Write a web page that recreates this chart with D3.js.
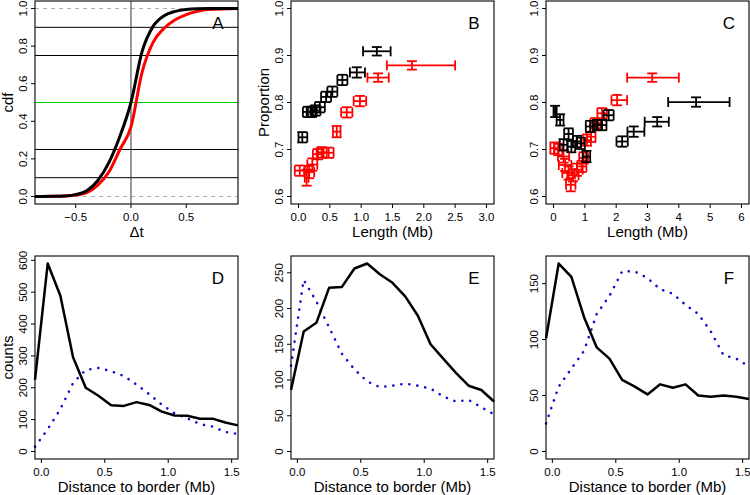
<!DOCTYPE html>
<html><head><meta charset="utf-8">
<script src="https://cdn.jsdelivr.net/npm/d3@7/dist/d3.min.js"></script>
<style>body{margin:0;background:#fff}svg{display:block}text{font-family:"Liberation Sans",Arial,Helvetica,sans-serif;fill:#000}</style>
</head><body><svg id="c" width="750" height="495"></svg>
<script>
// ---------- Panel A: cumulative distributions ----------
const cdfX     = [-0.868,-0.7,-0.6,-0.5,-0.4,-0.3,-0.2,-0.1,0.0,0.1,0.2,0.3,0.4,0.5,0.6,0.7,0.968];
const cdfBlack = [0.0,0.001,0.003,0.01,0.03,0.085,0.18,0.32,0.5,0.77,0.905,0.962,0.985,0.995,0.999,1.0,1.0];
const cdfRed   = [0.0,0.001,0.002,0.008,0.02,0.06,0.13,0.25,0.37,0.66,0.82,0.895,0.94,0.968,0.985,0.995,1.0];
const aQuantLines = [0.1,0.25,0.75,0.9];
const aMedian = 0.5;
const aBounds = [0,1];

// ---------- Panel B ----------
const bBlackX  = [0.06,0.15,0.21,0.27,0.34,0.44,0.54,0.70,0.93,1.25];
const bBlackY  = [0.726,0.780,0.780,0.783,0.790,0.812,0.823,0.848,0.864,0.909];
const bBlackLo = [0.0,0.07,0.13,0.19,0.26,0.36,0.46,0.62,0.82,1.03];
const bBlackHi = [0.14,0.23,0.29,0.35,0.42,0.52,0.62,0.78,1.06,1.47];
const bBlackEY = [0.011,0.011,0.011,0.011,0.011,0.011,0.011,0.011,0.011,0.009];
const bRedX  = [0.02,0.13,0.17,0.22,0.31,0.37,0.48,0.61,0.77,0.98,1.27,1.81];
const bRedY  = [0.655,0.640,0.652,0.668,0.690,0.694,0.693,0.738,0.779,0.803,0.853,0.879];
const bRedLo = [-0.06,0.10,0.09,0.14,0.23,0.29,0.40,0.55,0.68,0.88,1.10,1.41];
const bRedHi = [0.10,0.16,0.25,0.30,0.39,0.45,0.56,0.67,0.86,1.08,1.44,2.50];
const bRedEY = [0.011,0.017,0.013,0.013,0.011,0.011,0.011,0.012,0.011,0.011,0.009,0.009];

// ---------- Panel C ----------
const cBlackX  = [0.05,0.21,0.32,0.48,0.57,0.75,0.87,1.05,1.17,1.39,1.55,1.76,2.19,2.56,3.31,4.55];
const cBlackY  = [0.781,0.763,0.710,0.733,0.706,0.717,0.713,0.685,0.749,0.752,0.752,0.773,0.717,0.738,0.759,0.801];
const cBlackLo = [0.00,0.10,0.20,0.34,0.45,0.62,0.74,0.93,1.03,1.25,1.41,1.60,2.01,2.36,2.91,3.66];
const cBlackHi = [0.10,0.32,0.44,0.62,0.69,0.88,1.00,1.17,1.31,1.53,1.69,1.92,2.37,2.90,3.68,5.62];
const cBlackEY = [0.012,0.012,0.012,0.012,0.012,0.012,0.012,0.012,0.012,0.011,0.011,0.011,0.011,0.011,0.010,0.010];
const cRedX  = [0.03,0.15,0.32,0.37,0.48,0.55,0.62,0.75,0.90,0.96,1.07,1.20,1.34,1.55,2.03,3.15];
const cRedY  = [0.703,0.700,0.685,0.667,0.650,0.625,0.645,0.657,0.664,0.682,0.720,0.727,0.756,0.777,0.805,0.853];
const cRedLo = [-0.10,0.02,0.14,0.17,0.28,0.40,0.44,0.57,0.75,0.82,0.95,1.06,1.18,1.40,1.85,2.35];
const cRedHi = [0.16,0.28,0.50,0.57,0.68,0.70,0.80,0.93,1.05,1.10,1.19,1.34,1.50,1.70,2.35,4.00];
const cRedEY = [0.012,0.012,0.013,0.013,0.014,0.014,0.013,0.013,0.012,0.012,0.012,0.011,0.011,0.011,0.011,0.009];

// ---------- Panels D, E, F ----------
const distX  = [-0.05,0.05,0.15,0.25,0.35,0.45,0.55,0.65,0.75,0.85,0.95,1.05,1.15,1.25,1.35,1.45,1.55];
const dBlack = [225,590,489,296,200,175,145,143,155,146,125,113,112,103,103,91,82];
const dBlue  = [15,70,133,215,256,262,252,237,210,180,147,120,104,86,78,61,55];
const eBlack = [86,168,180,229,230,256,263,248,236,217,190,150,130,110,92,86,70];
const eBlue  = [120,240,210,174,137,115,98,90,92,95,92,88,77,70,72,62,52];
const fBlack = [101,168,156,120,93,83,64,58,51,60,57,60,50,49,50,49,47];
const fBlue  = [25,58,74,90,123,139,161,161,155,145,141,131,123,107,86,83,76];

const svg = d3.select("#c");
const colL = [35, 291, 546], rowT = [1, 256], PW = 203, PH = 203;
const fmt1 = d3.format(".1f");

function panel(o){
  const g = svg.append("g");
  const x = d3.scaleLinear().domain(o.xd).range([o.left, o.left+PW]);
  const y = d3.scaleLinear().domain(o.yd).range([o.top+PH, o.top]);
  const bottom = o.top+PH;
  o.xt.forEach(t=>{
    g.append("line").attr("x1",x(t)).attr("x2",x(t)).attr("y1",bottom).attr("y2",bottom+4).attr("stroke","#000");
    g.append("text").attr("x",x(t)).attr("y",bottom+13).attr("text-anchor","middle").attr("dominant-baseline","central")
      .attr("font-size",11.5).text(o.xf(t));
  });
  o.yt.forEach(t=>{
    g.append("line").attr("x1",o.left-4).attr("x2",o.left).attr("y1",y(t)).attr("y2",y(t)).attr("stroke","#000");
    g.append("text").attr("transform",`translate(${o.left-12},${y(t)}) rotate(-90)`).attr("text-anchor","middle")
      .attr("dominant-baseline","central").attr("font-size",11.5).text(o.yf(t));
  });
  if (o.xlab) g.append("text").attr("x",o.left+PW/2).attr("y",bottom+27).attr("text-anchor","middle")
      .attr("dominant-baseline","central").attr("font-size",15).text(o.xlab);
  if (o.ylab) g.append("text").attr("transform",`translate(${o.left-28},${o.top+PH/2}) rotate(-90)`)
      .attr("text-anchor","middle").attr("dominant-baseline","central").attr("font-size",15).text(o.ylab);
  g.append("text").attr("x",o.left+PW-20).attr("y",o.top+22).attr("text-anchor","middle")
    .attr("dominant-baseline","central").attr("font-size",17).text(o.letter);
  const content = g.append("g");
  g.append("rect").attr("x",o.left).attr("y",o.top).attr("width",PW).attr("height",PH)
    .attr("fill","none").attr("stroke","#000").attr("stroke-width",1.1);
  return {x,y,g:content};
}

// ---- A ----
{
  const p = panel({left:colL[0],top:rowT[0],xd:[-0.868,0.968],yd:[-0.04,1.04],xt:[-0.5,0,0.5],yt:[0,0.2,0.4,0.6,0.8,1.0],
    xf:fmt1,yf:fmt1,xlab:"Δt",ylab:"cdf",letter:"A"});
  aBounds.forEach(v=>p.g.append("line").attr("x1",p.x.range()[0]).attr("x2",p.x.range()[1]).attr("y1",p.y(v)).attr("y2",p.y(v))
    .attr("stroke","#b0b0b0").attr("stroke-dasharray","4,4"));
  aQuantLines.forEach(v=>p.g.append("line").attr("x1",p.x.range()[0]).attr("x2",p.x.range()[1]).attr("y1",p.y(v)).attr("y2",p.y(v))
    .attr("stroke","#000").attr("stroke-width",1));
  p.g.append("line").attr("x1",p.x.range()[0]).attr("x2",p.x.range()[1]).attr("y1",p.y(aMedian)).attr("y2",p.y(aMedian))
    .attr("stroke","#00cd00").attr("stroke-width",1);
  p.g.append("line").attr("x1",p.x(0)).attr("x2",p.x(0)).attr("y1",p.y.range()[0]).attr("y2",p.y.range()[1]).attr("stroke","#333");
  const ln = d3.line().x(d=>p.x(d[0])).y(d=>p.y(d[1])).curve(d3.curveMonotoneX);
  p.g.append("path").attr("d",ln(cdfX.map((v,i)=>[v,cdfRed[i]]))).attr("fill","none").attr("stroke","#ff0000").attr("stroke-width",3);
  p.g.append("path").attr("d",ln(cdfX.map((v,i)=>[v,cdfBlack[i]]))).attr("fill","none").attr("stroke","#000").attr("stroke-width",3);
}

function errbars(p, X, Y, Lo, Hi, EY, col){
  const cap = 5;
  X.forEach((v,i)=>{
    const cx = p.x(v), cy = p.y(Y[i]), xl = p.x(Lo[i]), xh = p.x(Hi[i]), yt = p.y(Y[i]+EY[i]), yb = p.y(Y[i]-EY[i]);
    const s = p.g.append("g").attr("stroke",col).attr("stroke-width",1.8).attr("fill","none");
    s.append("line").attr("x1",xl).attr("x2",xh).attr("y1",cy).attr("y2",cy);
    s.append("line").attr("x1",xl).attr("x2",xl).attr("y1",cy-cap).attr("y2",cy+cap);
    s.append("line").attr("x1",xh).attr("x2",xh).attr("y1",cy-cap).attr("y2",cy+cap);
    s.append("line").attr("x1",cx).attr("x2",cx).attr("y1",yt).attr("y2",yb);
    s.append("line").attr("x1",cx-cap).attr("x2",cx+cap).attr("y1",yt).attr("y2",yt);
    s.append("line").attr("x1",cx-cap).attr("x2",cx+cap).attr("y1",yb).attr("y2",yb);
  });
}
// ---- B ----
{
  const p = panel({left:colL[1],top:rowT[0],xd:[-0.12,3.12],yd:[0.584,1.016],xt:[0,0.5,1,1.5,2,2.5,3],yt:[0.6,0.7,0.8,0.9,1.0],
    xf:fmt1,yf:fmt1,xlab:"Length (Mb)",ylab:"Proportion",letter:"B"});
  errbars(p,bRedX,bRedY,bRedLo,bRedHi,bRedEY,"#ff0000");
  errbars(p,bBlackX,bBlackY,bBlackLo,bBlackHi,bBlackEY,"#000");
}
// ---- C ----
{
  const p = panel({left:colL[2],top:rowT[0],xd:[-0.24,6.24],yd:[0.584,1.016],xt:[0,1,2,3,4,5,6],yt:[0.6,0.7,0.8,0.9,1.0],
    xf:d3.format("d"),yf:fmt1,xlab:"Length (Mb)",ylab:null,letter:"C"});
  errbars(p,cRedX,cRedY,cRedLo,cRedHi,cRedEY,"#ff0000");
  errbars(p,cBlackX,cBlackY,cBlackLo,cBlackHi,cBlackEY,"#000");
}
// ---- D, E, F ----
function distPanel(i, black, blue, yt, letter, ylab){
  const mx = d3.max(black.concat(blue));
  const p = panel({left:colL[i],top:rowT[1],xd:[-0.05,1.55],yd:[-0.04*mx,1.04*mx],xt:[0,0.5,1,1.5],yt:yt,
    xf:fmt1,yf:d3.format("d"),xlab:"Distance to border (Mb)",ylab:ylab,letter:letter});
  const ln = d3.line().x((d,j)=>p.x(distX[j])).y(d=>p.y(d));
  p.g.append("path").attr("d",ln(blue)).attr("fill","none").attr("stroke","#1010cc").attr("stroke-width",2.6)
    .attr("stroke-linecap","round").attr("stroke-dasharray","0.1,8");
  p.g.append("path").attr("d",ln(black)).attr("fill","none").attr("stroke","#000").attr("stroke-width",2.5)
    .attr("stroke-linejoin","round");
}
distPanel(0,dBlack,dBlue,[0,100,200,300,400,500,600],"D","counts");
distPanel(1,eBlack,eBlue,[0,50,100,150,200,250],"E",null);
distPanel(2,fBlack,fBlue,[0,50,100,150],"F",null);
</script></body></html>
